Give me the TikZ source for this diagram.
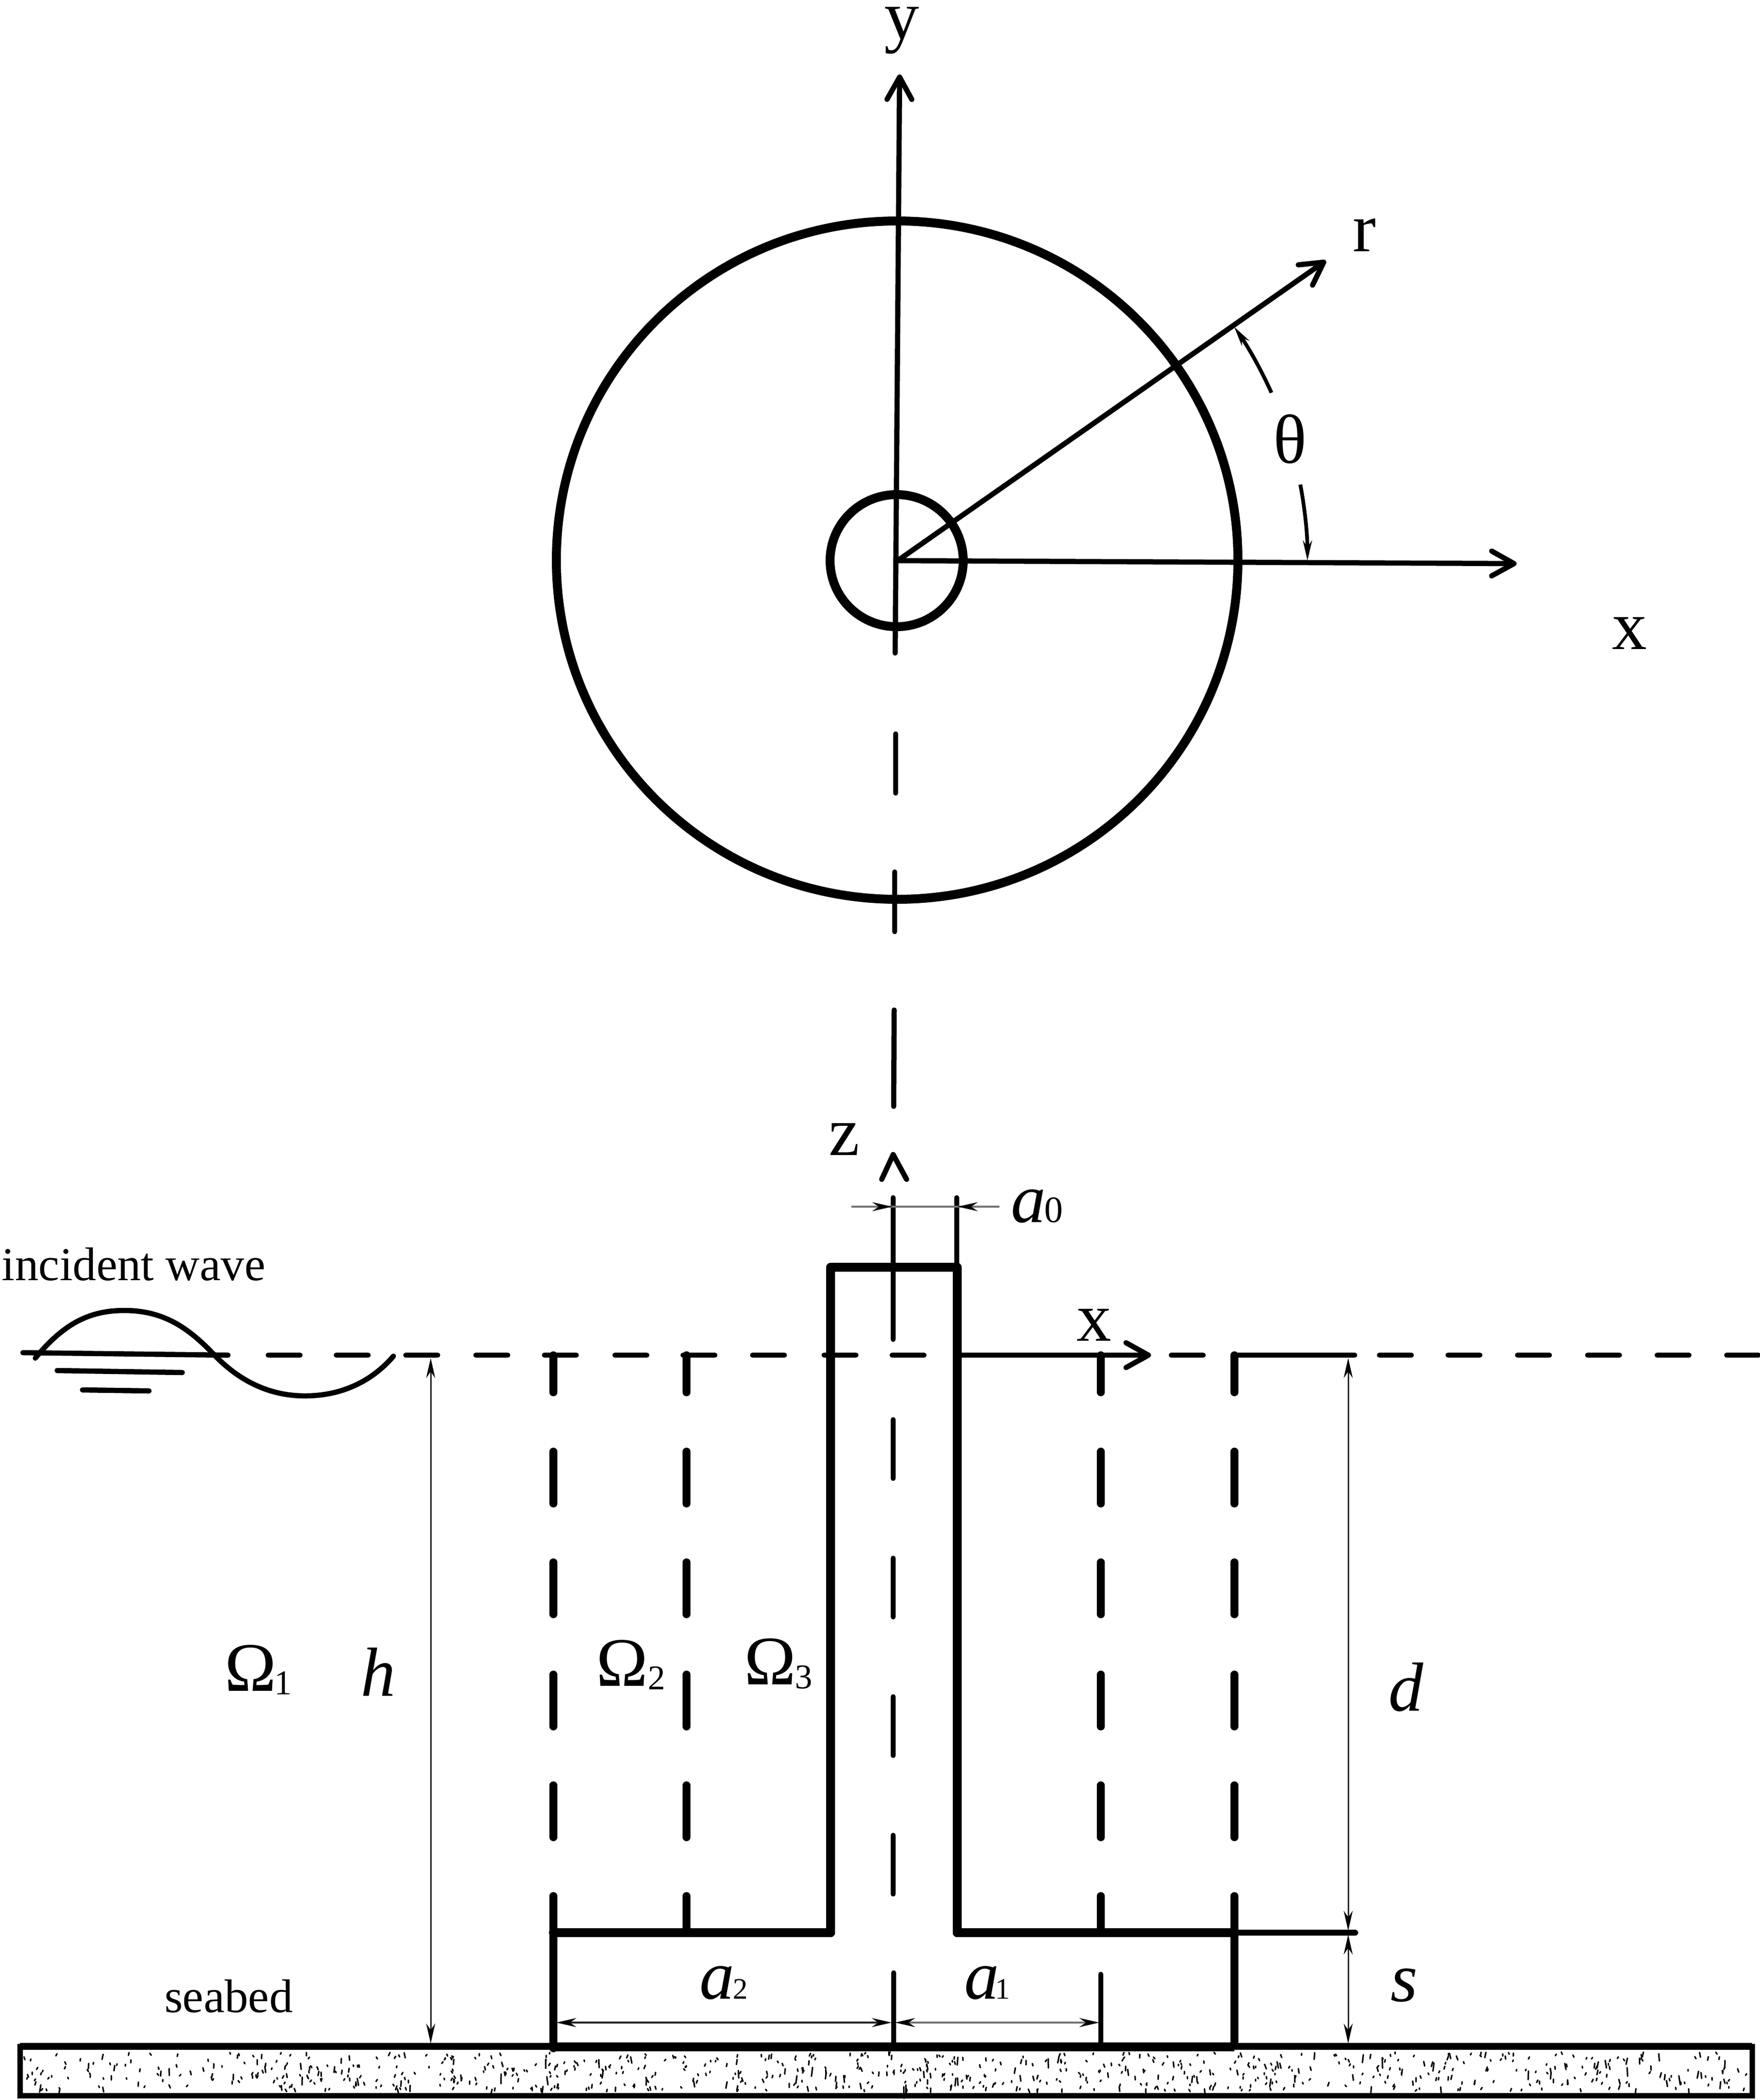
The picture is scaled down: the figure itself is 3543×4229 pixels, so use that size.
\documentclass[tikz,border=0pt]{standalone}
\usepackage{fontspec}
\setmainfont{Liberation Serif}
\usetikzlibrary{arrows.meta}

\tikzset{
  dimtip/.tip={Stealth[length=8pt,width=3.6pt,color=black]},
  axistip/.tip={Straight Barb[length=9pt,width=10pt,round]},
  wall/.style={line width=3.6pt,line cap=round},
  wallthin/.style={line width=3.1pt,line cap=round},
  axisline/.style={line width=2.1pt,line cap=round,line join=round},
  dimline/.style={line width=0.6pt,black!85},
  grayline/.style={line width=0.9pt,black!55},
  arcline/.style={line width=1.5pt},
  speck/.style={line width=0.6pt,line cap=round},
  lbl/.style={anchor=base west,inner sep=0pt,outer sep=0pt,font=\fontsize{28}{28}\selectfont},
  smalllbl/.style={anchor=base west,inner sep=0pt,outer sep=0pt,font=\fontsize{19}{19}\selectfont},
  subone/.style={anchor=base west,inner sep=0pt,outer sep=0pt,font=\fontsize{14}{14}\selectfont},
  suba/.style={anchor=base west,inner sep=0pt,outer sep=0pt,font=\fontsize{12}{12}\selectfont}
}

\begin{document}
\begin{tikzpicture}[x=0.2pt,y=0.2pt,yscale=-1,xscale=1]
\useasboundingbox (0,0) rectangle (3543,4229);

% plan view
\coordinate (orig) at (1807,1129);
\draw[wall] (1806,1128) ellipse [x radius=686,y radius=683];
\draw[wall] (1805,1129) ellipse [x radius=134,y radius=133];
\draw[axisline,-{axistip}] (1802,1315) -- (1811,150);
\draw[axisline,-{axistip}] (orig) -- (3053,1135);
\draw[axisline,-{axistip}] (orig) -- (2669,525);
\draw[arcline,-{dimtip}] (orig) ++(-24.2:825) arc [start angle=-24.2,end angle=-34.8,radius=825];
\draw[arcline,-{dimtip}] (orig) ++(-10.7:825) arc [start angle=-10.7,end angle=0,radius=825];

% centre line
\draw[axisline] (1803,1478) -- (1803,1597);
\draw[axisline] (1801,1756) -- (1801,1876);
\draw[axisline] (1800,2034) -- (1799,2228);
\draw[axisline] (1798,2412) -- (1798,2697);
\foreach \ya in {2859,3138,3417,3696}{
  \draw[axisline] (1798,\ya) -- (1798,\ya+118);
}
\draw[axisline] (1799,3973) -- (1799,4115);
\draw[axisline] (1775,2375) -- (1798,2325) -- (1825,2375);

% water line
\draw[axisline] (46,2724) -- (459,2729);
\foreach \xa in {540,677,817,958,1096,1238,1375,1515,1659,1796,2358,2777,2915,3055,3196,3336,3476}{
  \draw[axisline] (\xa,2729) -- (\xa+64,2729);
}
\draw[axisline] (2487,2729) -- (2727,2729);
\draw[axisline,-{axistip}] (1935,2729) -- (2317,2729);

% wave
\draw[axisline] (71,2735) .. controls (125,2670) and (175,2639) .. (250,2639)
  .. controls (325,2639) and (375,2670) .. (427,2724)
  .. controls (470,2770) and (530,2811) .. (614,2811)
  .. controls (690,2811) and (750,2780) .. (792,2731);
\draw[axisline] (115,2760) -- (367,2764);
\draw[axisline] (166,2799) -- (300,2801);

% interface lines
\foreach \xa in {1114,1382,2216,2485}{
  \draw[wallthin] (\xa,2729) -- (\xa,2804);
  \foreach \ya in {2923,3146,3372,3595}{
    \draw[wallthin] (\xa,\ya) -- (\xa,\ya+105);
  }
}
\draw[wallthin] (1114,3818) -- (1114,4125);
\draw[wallthin] (1382,3818) -- (1382,3892);
\draw[wallthin] (2216,3818) -- (2216,3892);
\draw[wallthin] (2485,3818) -- (2485,4120);
\draw[axisline] (2216,3976) -- (2216,4115);

% structure
\draw[wall,line join=round] (1672,3892) -- (1672,2552) -- (1927,2552) -- (1927,3892);
\draw[wall] (1114,3892) -- (1672,3892);
\draw[wall] (1927,3892) -- (2485,3892);
\draw[axisline,line width=2.4pt] (2485,3892) -- (2728,3892);
\draw[axisline] (1926,2412) -- (1926,2552);

% seabed
\draw[line width=2.2pt] (40,4121) rectangle (3527,4220);
\draw[line width=2.8pt] (40,4121) -- (3527,4121);
\draw[wall,line cap=butt] (1114,4122) -- (2485,4122);
\pgfmathsetseed{7}
\foreach \i in {1,...,760}{
  \pgfmathsetmacro{\sx}{48+rnd*3470}
  \pgfmathsetmacro{\sy}{4132+rnd*76}
  \pgfmathsetmacro{\dx}{-3+rnd*6}
  \pgfmathsetmacro{\dy}{3+rnd*rnd*rnd*24}
  \draw[speck] (\sx,\sy) -- ++(\dx,\dy);
}

% dimensions
\draw[dimline,{dimtip}-{dimtip}] (867,2735) -- (867,4115);
\draw[dimline,{dimtip}-{dimtip}] (2714,2735) -- (2714,3888);
\draw[dimline,{dimtip}-{dimtip}] (2714,3896) -- (2714,4115);
\draw[dimline,line width=0.8pt,{dimtip}-{dimtip}] (1120,4073) -- (1795,4073);
\draw[grayline,{dimtip}-{dimtip}] (1802,4073) -- (2213,4073);
\draw[grayline] (1714,2430) -- (2012,2430);
\draw[grayline,-{dimtip}] (1714,2430) -- (1796,2430);
\draw[grayline,-{dimtip}] (2012,2430) -- (1928,2430);

% labels
\node[lbl] (ylabel) at (1780,78) {y};
\node[lbl] (rlabel) at (2723,506) {r};
\node[lbl] (xlabel) at (3245,1307) {x};
\node[lbl] (thetalabel) at (2563,932) {θ};
\node[lbl] (zlabel) at (1668,2326) {z};
\node[lbl] (xlabelb) at (2167,2700) {x};
\node[lbl] (alabelo) at (2035,2461) {\itshape a};
\node[anchor=base west,inner sep=0pt,font=\fontsize{15}{15}\selectfont] (subo) at (2101,2461) {0};
\node[smalllbl] (wavelabel) at (4,2578) {incident wave};
\node[smalllbl] (seabedlabel) at (331,4052) {seabed};
\node[lbl] (omegaone) at (452,3405) {Ω};
\node[subone] (subone) at (552,3412) {1};
\node[lbl] (omegatwo) at (1200,3395) {Ω};
\node[subone] (subtwo) at (1304,3402) {2};
\node[lbl] (omegathree) at (1498,3392) {Ω};
\node[subone] (subthree) at (1600,3400) {3};
\node[lbl] (hlabel) at (726,3415) {\itshape h};
\node[lbl] (dlabel) at (2795,3445) {\itshape d};
\node[lbl] (slabel) at (2799,4030) {\itshape s};
\node[lbl] (alabelb) at (1408,4025) {\itshape a};
\node[suba] (subb) at (1475,4025) {2};
\node[lbl] (alabela) at (1941,4025) {\itshape a};
\node[suba] (suba) at (2003,4025) {1};

\end{tikzpicture}
\end{document}
